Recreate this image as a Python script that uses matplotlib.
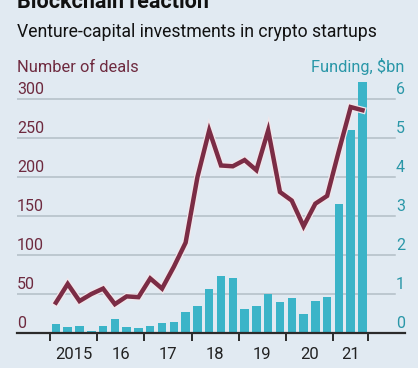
import matplotlib
matplotlib.use("Agg")
import matplotlib.pyplot as plt
import matplotlib.patheffects as pe
import numpy as np

plt.rcParams['font.family'] = ['Roboto', 'DejaVu Sans']

# quarterly data, 2015 Q1 .. 2021 Q3
deals = [39, 63, 41, 50, 57, 37, 47, 46,
         70, 57, 85, 116, 200, 260, 215, 214,
         222, 209, 260, 181, 170, 137, 166, 176,
         234, 290, 286]
funding = [0.23, 0.16, 0.18, 0.06, 0.19, 0.35, 0.15, 0.14,
           0.17, 0.26, 0.29, 0.55, 0.69, 1.12, 1.46, 1.42,
           0.62, 0.70, 1.00, 0.80, 0.89, 0.49, 0.81, 0.92,
           3.30, 5.20, 6.44]
year_bounds = [2015, 2016, 2017, 2018, 2019, 2020, 2021, 2021.75]
year_labels = ["2015", "16", "17", "18", "19", "20", "21"]
deal_ticks = [0, 50, 100, 150, 200, 250, 300]
fund_ticks = [0, 1, 2, 3, 4, 5, 6]

bg = '#e1eaf2'
maroon = '#7b2c45'
teal = '#3bb4c8'
teal_txt = '#2a97a8'

x = 2015 + 0.125 + 0.25 * np.arange(len(deals))

fig = plt.figure(figsize=(4.18, 3.68), dpi=100, facecolor=bg)
ax = fig.add_axes([17/418, 35/368, 388/418, 253.2/368])
ax2 = ax.twinx()
for a in (ax, ax2):
    a.set_facecolor(bg)
    for s in a.spines.values():
        s.set_visible(False)
ax.set_zorder(ax2.get_zorder() + 1)
ax.patch.set_visible(False)

ax.set_xlim(2014.30, 2022.526)
ax.set_ylim(0, 325)
ax2.set_ylim(0, 6.5)

# gridlines
for t in deal_ticks[1:]:
    ax2.axhline(t / 50, xmin=0, xmax=0.974, color='#b3bec6', lw=1.1, zorder=0)

ax2.bar(x, funding, width=0.18, color=teal, zorder=2)
ax.plot(x, deals, color=maroon, lw=3.2, solid_joinstyle='miter', zorder=3,
        path_effects=[pe.Stroke(linewidth=5, foreground='#f3e6ea'), pe.Normal()])

ax.axhline(0, color='#2b2b2b', lw=1.6, zorder=4, clip_on=False)

# y labels above gridlines
ax.set_yticks([])
ax2.set_yticks([])
for t in deal_ticks:
    ax.text(2014.30, t + 3, str(t), color='#6e2a3f', fontsize=11.5,
            ha='left', va='bottom')
for t in fund_ticks:
    ax2.text(2022.526, t + 0.06, str(t), color=teal_txt, fontsize=11.5,
             ha='right', va='bottom')

# x ticks at year boundaries, labels between
ax.set_xticks(year_bounds)
ax.set_xticklabels([])
ax.tick_params(axis='x', length=6, width=1.4, color='#2b2b2b', direction='out')
mids = [(a + b) / 2 for a, b in zip(year_bounds[:-1], year_bounds[1:])]
ax.set_xticks(mids, minor=True)
ax.set_xticklabels(year_labels, minor=True, fontsize=12, color='#222222')
ax.tick_params(axis='x', which='minor', length=0, pad=10)

fig.text(17/418, 1 - 8/368, "Blockchain reaction", fontsize=15.5, weight='bold',
         color='#111111', va='baseline')
fig.text(17/418, 1 - 37/368, "Venture-capital investments in crypto startups",
         fontsize=12.7, color='#111111', va='baseline')
fig.text(17/418, 1 - 72/368, "Number of deals", fontsize=11.8, color='#6e2a3f',
         va='baseline')
fig.text(404/418, 1 - 72/368, "Funding, $bn", fontsize=11.8, color=teal_txt,
         va='baseline', ha='right')

fig.savefig('out.png', dpi=100, facecolor=bg)
